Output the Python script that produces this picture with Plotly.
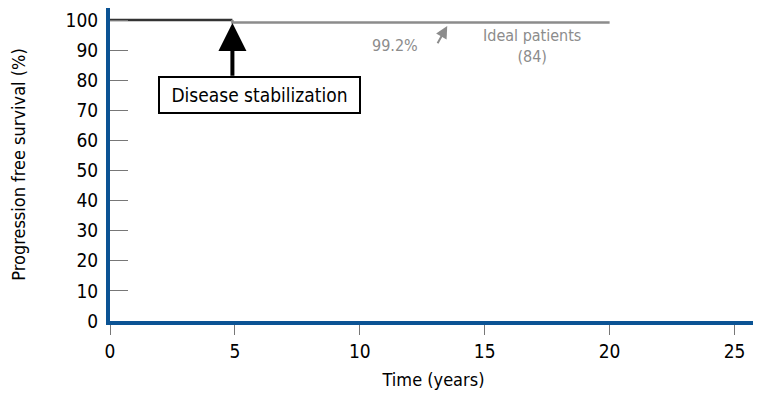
import plotly.graph_objects as go

# Data
time_before = [0, 4.9]
pfs_before = [100, 100]
time_ideal = [4.9, 4.9, 20]
pfs_ideal = [100, 99.2, 99.2]
x_ticks = [0, 5, 10, 15, 20, 25]
y_ticks = [0, 10, 20, 30, 40, 50, 60, 70, 80, 90, 100]

FONT = "DejaVu Sans Condensed, Liberation Sans Narrow, sans-serif"
AXIS_BLUE = "#0b5394"

fig = go.Figure()
fig.add_trace(go.Scatter(x=time_before, y=pfs_before, mode="lines",
                         line=dict(color="#333333", width=2.5), showlegend=False))
fig.add_trace(go.Scatter(x=time_ideal, y=pfs_ideal, mode="lines",
                         line=dict(color="#8c8c8c", width=2.5), showlegend=False))

# Disease stabilization box and arrow
fig.add_annotation(x=6.0, y=75, xref="x", yref="y", text=" Disease stabilization ",
                   showarrow=False, bordercolor="black", borderwidth=2, borderpad=6,
                   bgcolor="white", font=dict(family=FONT, size=19, color="black"))
fig.add_annotation(x=4.9, y=99.0, xref="x", yref="y", ax=4.9, ay=81.0,
                   axref="x", ayref="y", text="", showarrow=True,
                   arrowhead=2, arrowsize=1.4, arrowwidth=4, arrowcolor="black")

# Ideal patients labels
fig.add_annotation(x=11.4, y=91.5, xref="x", yref="y", text="99.2%", showarrow=False,
                   font=dict(family=FONT, size=16, color="#8c8c8c"))
fig.add_annotation(x=13.5, y=98.0, xref="x", yref="y", ax=13.08, ay=91.8,
                   axref="x", ayref="y", text="", showarrow=True,
                   arrowhead=2, arrowsize=1.2, arrowwidth=2, arrowcolor="#8c8c8c")
fig.add_annotation(x=16.9, y=91.4, xref="x", yref="y", text="Ideal patients<br>(84)",
                   showarrow=False, font=dict(family=FONT, size=16, color="#8c8c8c"))

fig.update_xaxes(range=[0, 25.9], tickvals=x_ticks, ticks="outside", ticklen=10,
                 tickcolor="#777777", tickwidth=1, showline=True, linecolor=AXIS_BLUE,
                 linewidth=4, showgrid=False, zeroline=False, automargin=False,
                 tickfont=dict(family=FONT, size=19, color="black"),
                 title=dict(text="Time (years)", font=dict(family=FONT, size=18, color="black"),
                            standoff=14))
fig.update_yaxes(range=[0, 104], tickvals=y_ticks, ticks="inside", ticklen=18,
                 tickcolor="#777777", tickwidth=1, showline=True, linecolor=AXIS_BLUE,
                 linewidth=4, showgrid=False, zeroline=False, automargin=False,
                 ticklabelstandoff=4,
                 tickfont=dict(family=FONT, size=19, color="black"),
                 title=dict(text="Progression free survival (%)",
                            font=dict(family=FONT, size=18, color="black"), standoff=40))

fig.update_layout(width=753, height=400, margin=dict(l=102, r=4, t=0, b=87),
                  plot_bgcolor="white", paper_bgcolor="white")

fig.write_html("out.html")
